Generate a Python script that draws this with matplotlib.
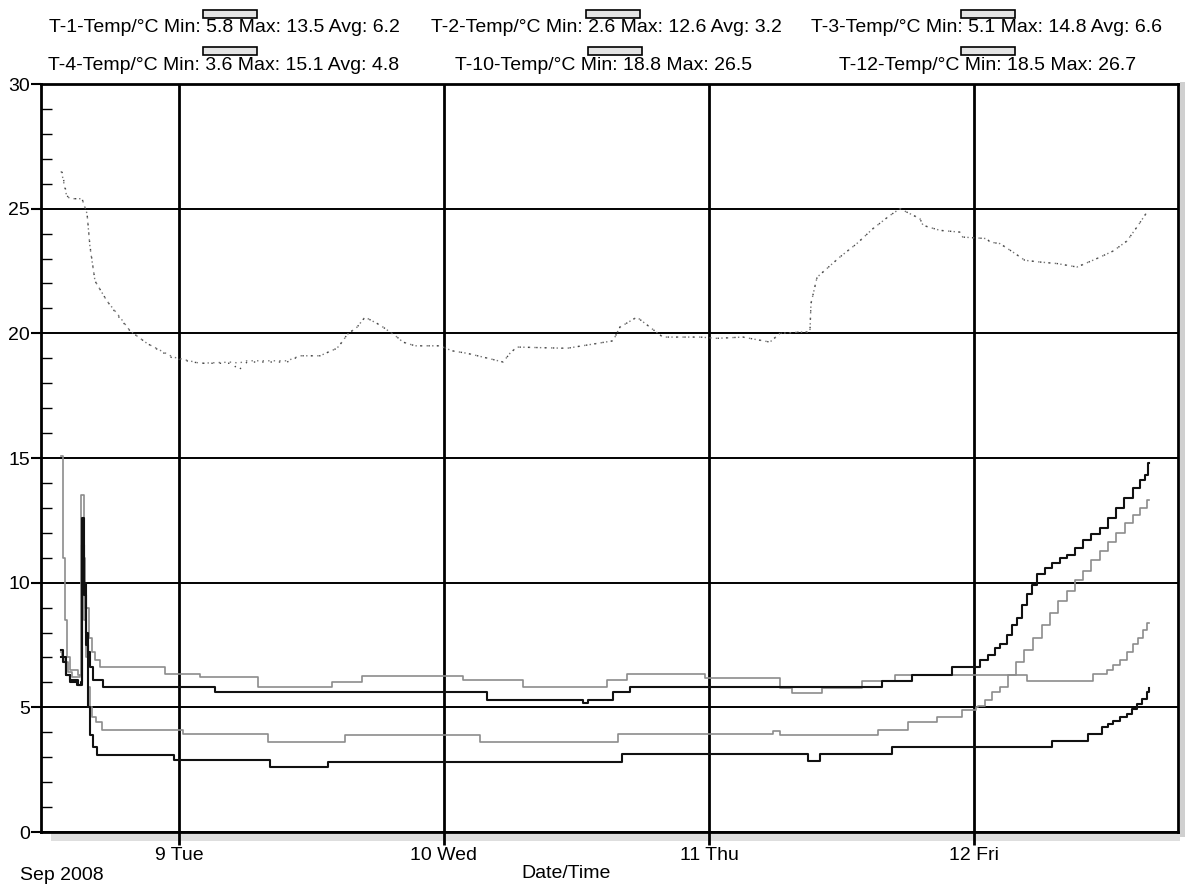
import matplotlib.pyplot as plt
from matplotlib.patches import Rectangle
from matplotlib.ticker import MultipleLocator

plt.rcParams['font.family'] = ['Liberation Sans', 'DejaVu Sans']

# czas = dzien wrzesnia 2008 (ulamek doby), temperatura w °C
t1_czas = [8.555, 8.558, 8.570, 8.581, 8.596, 8.625, 8.632, 8.640, 8.647, 8.659, 8.672, 8.683, 8.702,
           8.947, 9.079, 9.298, 9.577, 9.691, 10.072, 10.298, 10.615, 10.691, 10.985, 11.268, 11.313,
           11.426, 11.577, 11.702, 12.200, 12.449, 12.502, 12.525, 12.551, 12.577, 12.600, 12.619,
           12.638, 12.653, 12.660]
t1_temp = [7.2, 7.0, 6.8, 6.4, 6.2, 6.3, 13.5, 11.0, 9.0, 7.8, 7.2, 6.9, 6.6,
           6.33, 6.2, 5.83, 6.03, 6.27, 6.09, 5.8, 6.09, 6.32, 6.16, 5.77, 5.57,
           5.77, 6.07, 6.28, 6.07, 6.33, 6.5, 6.7, 6.9, 7.2, 7.53, 7.8,
           8.1, 8.4, 8.4]

t2_czas = [8.555, 8.562, 8.574, 8.589, 8.619, 8.634, 8.642, 8.649, 8.657, 8.664, 8.675, 8.691,
           8.981, 9.343, 9.562, 10.672, 11.374, 11.419, 11.691, 12.294, 12.430, 12.483, 12.506,
           12.525, 12.551, 12.577, 12.596, 12.615, 12.634, 12.653, 12.660]
t2_temp = [7.0, 6.8, 6.3, 6.1, 5.9, 12.6, 10.0, 7.5, 5.0, 3.9, 3.4, 3.08,
           2.88, 2.61, 2.8, 3.13, 2.84, 3.11, 3.4, 3.67, 3.93, 4.2, 4.35,
           4.47, 4.6, 4.73, 4.95, 5.13, 5.35, 5.6, 5.77]

t3_czas = [8.555, 8.562, 8.574, 8.589, 8.615, 8.630, 8.634, 8.642, 8.649, 8.657, 8.664, 8.675, 8.713,
           9.136, 10.162, 10.525, 10.543, 10.638, 10.702, 11.653, 11.766, 11.917, 12.008,
           12.023, 12.053, 12.079, 12.098, 12.125, 12.143, 12.162, 12.181, 12.200, 12.219, 12.238,
           12.268, 12.294, 12.325, 12.351, 12.381, 12.411, 12.442, 12.476, 12.506, 12.536, 12.566,
           12.600, 12.626, 12.645, 12.657, 12.660]
t3_temp = [7.3, 7.0, 6.3, 6.0, 5.9, 6.0, 11.5, 9.5, 8.0, 7.2, 6.6, 6.1, 5.83,
           5.63, 5.29, 5.16, 5.29, 5.6, 5.8, 6.07, 6.28, 6.6, 6.6,
           6.9, 7.1, 7.4, 7.53, 7.9, 8.3, 8.6, 9.1, 9.53, 9.9, 10.33,
           10.6, 10.8, 11.0, 11.1, 11.4, 11.7, 11.95, 12.2, 12.6, 13.0, 13.4,
           13.8, 14.1, 14.33, 14.8, 14.8]

t4_czas = [8.555, 8.562, 8.570, 8.577, 8.589, 8.619, 8.634, 8.642, 8.649, 8.657, 8.664, 8.672, 8.687,
           8.709, 9.015, 9.336, 9.626, 10.136, 10.657, 11.242, 11.268, 11.638, 11.751, 11.860,
           11.955, 12.008, 12.015, 12.042, 12.068, 12.098, 12.128, 12.158, 12.189, 12.223, 12.257,
           12.287, 12.317, 12.351, 12.381, 12.411, 12.442, 12.475, 12.506, 12.536, 12.570, 12.600,
           12.626, 12.653, 12.660]
t4_temp = [15.1, 11.0, 8.5, 7.0, 6.5, 6.3, 10.5, 8.5, 7.0, 5.8, 5.0, 4.6, 4.4,
           4.09, 3.95, 3.62, 3.89, 3.63, 3.92, 4.04, 3.91, 4.11, 4.41, 4.61,
           4.91, 5.0, 5.07, 5.3, 5.6, 5.8, 6.3, 6.8, 7.3, 7.8, 8.3,
           8.8, 9.25, 9.67, 10.1, 10.47, 10.9, 11.27, 11.65, 12.0, 12.4, 12.73,
           13.0, 13.3, 13.3]

gora_czas = [8.555, 8.558, 8.577, 8.604, 8.634, 8.653, 8.664, 8.683, 8.728, 8.777, 8.815, 8.879,
             8.977, 9.079, 9.204, 9.223, 9.257, 9.408, 9.457, 9.532, 9.596, 9.619, 9.634, 9.672,
             9.702, 9.747, 9.770, 9.823, 9.845, 9.891, 9.985, 10.030, 10.087, 10.166, 10.223,
             10.249, 10.275, 10.464, 10.638, 10.664, 10.728, 10.777, 10.826, 10.966, 11.030,
             11.128, 11.230, 11.268, 11.343, 11.381, 11.385, 11.408, 11.445, 11.494, 11.558,
             11.619, 11.683, 11.721, 11.747, 11.796, 11.808, 11.872, 11.947, 11.958, 12.049,
             12.060, 12.098, 12.147, 12.192, 12.249, 12.313, 12.389, 12.464, 12.525, 12.577,
             12.615, 12.653]
t10_temp = [26.5, 26.4, 25.46, 25.4, 25.4, 24.8, 23.46, 22.1, 21.3, 20.65, 20.1, 19.6,
            19.05, 18.8, 18.85, 18.8, 18.9, 18.9, 19.1, 19.1, 19.4, 19.7, 19.95, 20.25,
            20.65, 20.4, 20.25, 19.85, 19.65, 19.5, 19.5, 19.3, 19.2, 19.0, 18.85,
            19.2, 19.45, 19.4, 19.7, 20.25, 20.65, 20.25, 19.85, 19.85, 19.8,
            19.85, 19.65, 20.0, 20.05, 20.05, 21.2, 22.25, 22.6, 23.06, 23.6,
            24.2, 24.73, 25.0, 24.86, 24.6, 24.33, 24.13, 24.06, 23.86, 23.8,
            23.66, 23.6, 23.26, 22.93, 22.86, 22.8, 22.66, 23.0, 23.3, 23.7,
            24.26, 24.86]
t12_temp = [26.7, 26.5, 25.5, 25.4, 25.4, 24.8, 23.5, 22.1, 21.3, 20.6, 20.1, 19.6,
            19.0, 18.8, 18.8, 18.5, 18.85, 18.85, 19.1, 19.1, 19.4, 19.7, 19.95, 20.25,
            20.65, 20.4, 20.25, 19.85, 19.65, 19.5, 19.5, 19.3, 19.2, 19.0, 18.85,
            19.2, 19.45, 19.4, 19.7, 20.25, 20.65, 20.25, 19.85, 19.85, 19.8,
            19.85, 19.65, 20.0, 20.05, 20.05, 21.2, 22.25, 22.6, 23.06, 23.6,
            24.2, 24.73, 25.0, 24.86, 24.6, 24.33, 24.13, 24.06, 23.86, 23.8,
            23.66, 23.6, 23.26, 22.93, 22.86, 22.8, 22.66, 23.0, 23.3, 23.7,
            24.26, 24.86]

dni = [9, 10, 11, 12]
dni_opisy = ['9 Tue', '10 Wed', '11 Thu', '12 Fri']

legenda = ['T-1-Temp/°C Min: 5.8 Max: 13.5 Avg: 6.2',
           'T-2-Temp/°C Min: 2.6 Max: 12.6 Avg: 3.2',
           'T-3-Temp/°C Min: 5.1 Max: 14.8 Avg: 6.6',
           'T-4-Temp/°C Min: 3.6 Max: 15.1 Avg: 4.8',
           'T-10-Temp/°C Min: 18.8 Max: 26.5',
           'T-12-Temp/°C Min: 18.5 Max: 26.7']

fig = plt.figure(figsize=(11.87, 8.89), dpi=100)
ax = fig.add_axes([0.0345, 0.0641, 0.9579, 0.8414])

ax.set_xlim(8.479, 12.770)
ax.set_ylim(0, 30)

ax.grid(True, axis='x', color='black', lw=2)
ax.grid(True, axis='y', color='black', lw=1.4)
ax.set_axisbelow(True)

szary = '#8c8c8c'
ax.plot(gora_czas, t10_temp, color='#777777', lw=1, ls=(0, (1, 3)))
ax.plot(gora_czas, t12_temp, color='#444444', lw=1, ls=(2, (1, 5)))
ax.plot(t1_czas, t1_temp, color=szary, lw=1.2, drawstyle='steps-post')
ax.plot(t4_czas, t4_temp, color=szary, lw=1.2, drawstyle='steps-post')
ax.plot(t3_czas, t3_temp, color='#111111', lw=1.5, drawstyle='steps-post')
ax.plot(t2_czas, t2_temp, color='#111111', lw=1.5, drawstyle='steps-post')

ax.set_yticks(range(0, 31, 5))
ax.yaxis.set_minor_locator(MultipleLocator(1))
ax.tick_params(axis='y', which='major', direction='out', length=7, width=1.5, labelsize=14, pad=1)
ax.tick_params(axis='y', which='minor', direction='in', length=8, width=1)
ax.set_xticks(dni)
ax.set_xticklabels(dni_opisy)
ax.tick_params(axis='x', direction='out', length=9, width=2, labelsize=14, pad=2)
for s in ax.spines.values():
    s.set_linewidth(2)

# pasek pod osia i z prawej (jak na wydruku)
fig.add_artist(Rectangle((0.043, 0.0545), 0.951, 0.008, transform=fig.transFigure,
                         facecolor='#dedede', edgecolor='none', zorder=0))
fig.add_artist(Rectangle((0.9945, 0.058), 0.004, 0.85, transform=fig.transFigure,
                         facecolor='#d0d0d0', edgecolor='none', zorder=0))

fig.text(20 / 1187, 1 - 875 / 889, 'Sep 2008', fontsize=14, va='center', ha='left')
fig.text(566 / 1187, 1 - 873 / 889, 'Date/Time', fontsize=14, va='center', ha='center')

# legenda: prostokaty nad opisami
opis_x = [224, 606, 986, 224, 604, 988]
znak_x = [230, 613, 988, 230, 615, 988]
wiersze = [(14, 28), (51, 66)]
for i, opis in enumerate(legenda):
    sy, ty = wiersze[i // 3]
    fig.text(opis_x[i] / 1187, 1 - ty / 889, opis, fontsize=14, ha='center', va='center')
    fig.add_artist(Rectangle(((znak_x[i] - 27) / 1187, 1 - (sy + 4) / 889), 54 / 1187, 8 / 889,
                             transform=fig.transFigure, facecolor='#e4e4e4',
                             edgecolor='black', lw=1.2))

fig.savefig('out.png', dpi=100)
